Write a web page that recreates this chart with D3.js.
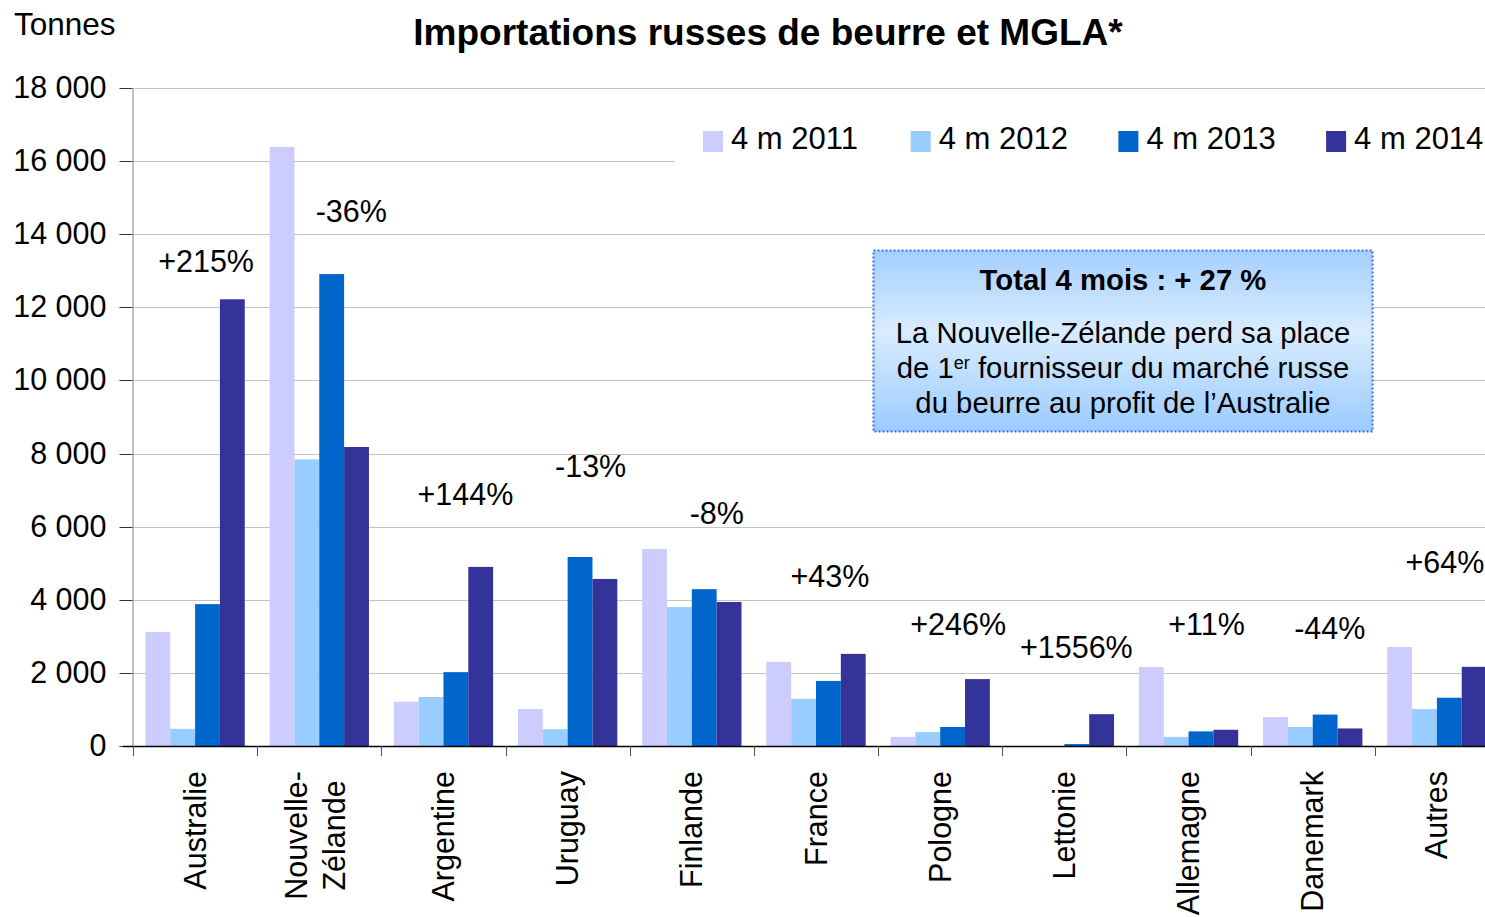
<!DOCTYPE html>
<html>
<head>
<meta charset="utf-8">
<script src="https://cdn.jsdelivr.net/npm/d3@7"></script>
<style>
    body { margin: 0; background: #fff; }
    svg { display: block; font-family: "Liberation Sans", Arial, sans-serif; }
</style>
</head>
<body>
<div id="chart"></div>
<script>
// data (tonnes)
const categories = ["Australie", "Nouvelle-\nZélande", "Argentine", "Uruguay", "Finlande", "France",
    "Pologne", "Lettonie", "Allemagne", "Danemark", "Autres"];
const seriesNames = ["4 m 2011", "4 m 2012", "4 m 2013", "4 m 2014"];
const values2011 = [3120, 16390, 1210, 1010, 5390, 2300, 250, 0, 2160, 790, 2710];
const values2012 = [470, 7840, 1340, 460, 3800, 1290, 380, 0, 250, 520, 1010];
const values2013 = [3880, 12910, 2020, 5170, 4290, 1780, 520, 53, 400, 860, 1320];
const values2014 = [12220, 8180, 4900, 4570, 3940, 2520, 1830, 870, 444, 480, 2165];
const changes = ["+215%", "-36%", "+144%", "-13%", "-8%", "+43%", "+246%", "+1556%", "+11%", "-44%", "+64%"];
const yTicks = [0, 2000, 4000, 6000, 8000, 10000, 12000, 14000, 16000, 18000];

const colors = ["#CCCCFF", "#99CCFF", "#0066CC", "#333399"];
// label placement (offset from group centre in px, baseline in px)
const changeDx = [11, 32, 22, 23, 25, 14, 18, 12, 18, 17, 8];
const changeY = [272, 222, 505, 477, 524, 587, 635, 658, 635, 639, 573];

const W = 1485, H = 917;
const margin = {top: 88, left: 133, bottom: 171};
const plotRight = 1499;
const plotBottom = H - margin.bottom; // 746

const svg = d3.select("#chart").append("svg")
    .attr("width", W)
    .attr("height", H);

const series = [values2011, values2012, values2013, values2014];
const data = categories.map((c, i) => ({cat: c, vals: series.map(s => s[i]), change: changes[i]}));

const x0 = d3.scaleBand()
    .domain(categories)
    .range([margin.left, plotRight])
    .padding(0);

const x1 = d3.scaleBand()
    .domain(seriesNames)
    .range([x0.bandwidth() * 0.1, x0.bandwidth() * 0.9])
    .padding(0);

const y = d3.scaleLinear()
    .domain([0, 18000])
    .range([plotBottom, margin.top]);

// gridlines
svg.append("g")
    .selectAll("line")
    .data(yTicks.filter(d => d > 0))
    .enter().append("line")
    .attr("x1", margin.left)
    .attr("x2", plotRight)
    .attr("y1", d => Math.round(y(d)) + 0.5)
    .attr("y2", d => Math.round(y(d)) + 0.5)
    .style("stroke", "#c4c4c4")
    .style("stroke-width", 1);

// bars
const groups = svg.append("g")
    .selectAll("g")
    .data(data)
    .enter().append("g")
    .attr("transform", d => `translate(${x0(d.cat)},0)`);

groups.selectAll("rect")
    .data(d => d.vals.map((v, k) => ({name: seriesNames[k], v: v, k: k})))
    .enter().append("rect")
    .attr("x", d => x1(d.name))
    .attr("width", x1.bandwidth())
    .attr("y", d => y(d.v))
    .attr("height", d => plotBottom - y(d.v))
    .style("fill", d => colors[d.k]);

// y axis
const yAxis = svg.append("g")
    .attr("transform", `translate(${margin.left - 0.5},0)`)
    .call(d3.axisLeft(y)
        .tickValues(yTicks)
        .tickSize(13)
        .tickSizeOuter(0)
        .tickPadding(13)
        .tickFormat(d => d3.format(",")(d).replace(",", " ")));
yAxis.select(".domain").style("stroke", "#808080");
yAxis.selectAll(".tick line").style("stroke", "#333");
yAxis.selectAll(".tick text")
    .style("font-size", "30.5px")
    .style("fill", "#000");
yAxis.selectAll(".tick").attr("transform", d => `translate(0,${Math.round(y(d)) + 0.5})`);

// x axis baseline and category separators
svg.append("line")
    .attr("x1", margin.left - 10)
    .attr("x2", plotRight)
    .attr("y1", plotBottom + 0.5)
    .attr("y2", plotBottom + 0.5)
    .style("stroke", "#000")
    .style("stroke-width", 1.5);

svg.append("g")
    .selectAll("line")
    .data(categories.concat(["end"]))
    .enter().append("line")
    .attr("x1", (d, i) => Math.round(margin.left + i * x0.step()) + 0.5)
    .attr("x2", (d, i) => Math.round(margin.left + i * x0.step()) + 0.5)
    .attr("y1", plotBottom)
    .attr("y2", plotBottom + 10)
    .style("stroke", "#555");

// category labels, rotated
const labelTop = 771;
categories.forEach(c => {
    const lines = c.split("\n");
    const cx = x0(c) + x0.bandwidth() / 2;
    const t = svg.append("text")
        .attr("transform", `translate(${cx},${labelTop}) rotate(-90)`)
        .style("font-size", "30.5px")
        .style("fill", "#000");
    const lh = 38;
    const startDy = lines.length === 1 ? 10.5 : 10.5 - (lines.length - 1) * lh / 2 - 4;
    const spans = lines.map((l, i) => t.append("tspan")
        .attr("y", startDy + i * lh)
        .text(l));
    if (lines.length === 1) {
        t.attr("text-anchor", "end");
        spans[0].attr("x", 0);
    } else {
        const maxLen = d3.max(spans, s => s.node().getComputedTextLength());
        t.attr("text-anchor", "middle");
        spans.forEach(s => s.attr("x", -maxLen / 2));
    }
});

// change labels
svg.append("g")
    .selectAll("text")
    .data(data)
    .enter().append("text")
    .attr("x", (d, i) => x0(d.cat) + x0.bandwidth() / 2 + changeDx[i])
    .attr("y", (d, i) => changeY[i])
    .attr("text-anchor", "middle")
    .style("font-size", "30.5px")
    .style("fill", "#000")
    .text(d => d.change);

// legend
svg.append("rect")
    .attr("x", 675)
    .attr("y", 116)
    .attr("width", 830)
    .attr("height", 50)
    .style("fill", "#fff");

const legend = svg.append("g")
    .selectAll("g")
    .data(seriesNames)
    .enter().append("g")
    .attr("transform", (d, i) => `translate(${703 + i * 207.7},131)`);

legend.append("rect")
    .attr("width", 20)
    .attr("height", 21)
    .style("fill", (d, i) => colors[i]);

legend.append("text")
    .attr("x", 28)
    .attr("y", 18)
    .style("font-size", "31px")
    .style("fill", "#000")
    .text(d => d);

// title and unit
svg.append("text")
    .attr("x", 768)
    .attr("y", 45)
    .attr("text-anchor", "middle")
    .style("font-size", "37px")
    .style("font-weight", "bold")
    .text("Importations russes de beurre et MGLA*");

svg.append("text")
    .attr("x", 14)
    .attr("y", 35)
    .style("font-size", "31.5px")
    .text("Tonnes");

// note box
const defs = svg.append("defs");
const grad = defs.append("linearGradient")
    .attr("id", "boxGradient")
    .attr("x1", "0%").attr("y1", "0%")
    .attr("x2", "0%").attr("y2", "100%");
grad.append("stop").attr("offset", "0%").attr("stop-color", "#a4cfff");
grad.append("stop").attr("offset", "45%").attr("stop-color", "#d9ecff");
grad.append("stop").attr("offset", "100%").attr("stop-color", "#9acbff");

const box = svg.append("g").attr("transform", "translate(873,250)");
box.append("rect")
    .attr("x", 0.5)
    .attr("y", 0.5)
    .attr("width", 499)
    .attr("height", 181)
    .style("fill", "url(#boxGradient)")
    .style("stroke", "#3a6cf0")
    .style("stroke-width", 2)
    .style("stroke-dasharray", "2,2");

box.append("text")
    .attr("x", 250)
    .attr("y", 40)
    .attr("text-anchor", "middle")
    .style("font-size", "29.3px")
    .style("font-weight", "bold")
    .text("Total 4 mois : + 27 %");

const boxLines = box.append("text")
    .attr("text-anchor", "middle")
    .style("font-size", "29.3px");
boxLines.append("tspan").attr("x", 250).attr("y", 93).text("La Nouvelle-Zélande perd sa place");
const l2 = boxLines.append("tspan").attr("x", 250).attr("y", 128);
l2.append("tspan").text("de 1");
l2.append("tspan").attr("dy", -9).style("font-size", "18px").text("er");
l2.append("tspan").attr("dy", 9).text(" fournisseur du marché russe");
boxLines.append("tspan").attr("x", 250).attr("y", 163).text("du beurre au profit de l\u2019Australie");
</script>
</body>
</html>
